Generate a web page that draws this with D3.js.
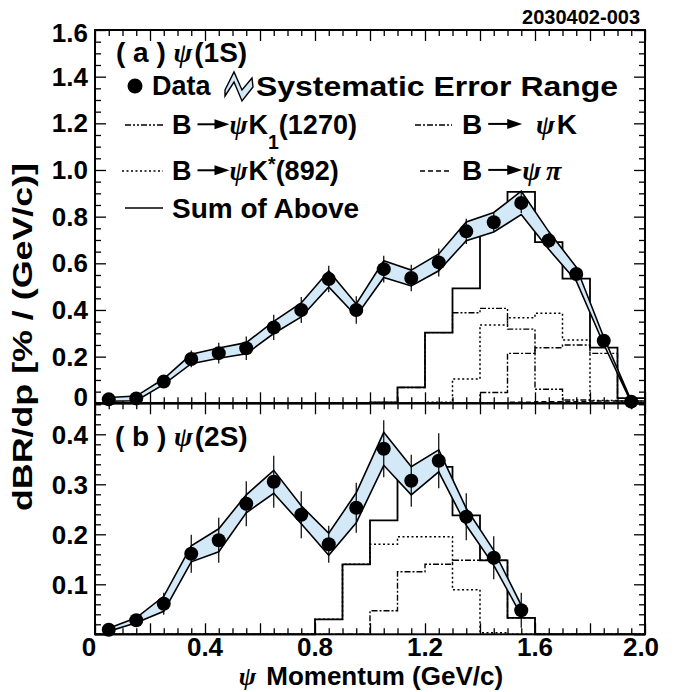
<!DOCTYPE html>
<html>
<head>
<meta charset="utf-8">
<script src="https://cdn.jsdelivr.net/npm/d3@7"></script>
<style>
  html, body { margin: 0; padding: 0; background: #fff; }
  svg { display: block; font-family: "Liberation Sans", Arial, Helvetica, sans-serif; font-weight: bold; }
  text { white-space: pre; }
</style>
</head>
<body>
<svg id="chart" width="679" height="692"></svg>
<script>
// psi momentum bin centres (GeV/c)
const momA = [0.05, 0.15, 0.25, 0.35, 0.45, 0.55, 0.65, 0.75, 0.85, 0.95,
              1.05, 1.15, 1.25, 1.35, 1.45, 1.55, 1.65, 1.75, 1.85, 1.95];
const momB = [0.05, 0.15, 0.25, 0.35, 0.45, 0.55, 0.65, 0.75, 0.85, 0.95,
              1.05, 1.15, 1.25, 1.35, 1.45, 1.55];

// (a) psi(1S) data
const valA  = [0.017, 0.021, 0.093, 0.190, 0.215, 0.236, 0.325, 0.400, 0.533, 0.400,
               0.575, 0.537, 0.604, 0.737, 0.776, 0.859, 0.698, 0.554, 0.268, 0.007];
const statA = [0.008, 0.008, 0.020, 0.036, 0.044, 0.050, 0.054, 0.056, 0.057, 0.059,
               0.057, 0.057, 0.060, 0.054, 0.040, 0.043, 0.032, 0.032, 0.026, 0.010];
const sysA  = [0.008, 0.010, 0.012, 0.020, 0.022, 0.024, 0.026, 0.030, 0.034, 0.026,
               0.036, 0.034, 0.036, 0.040, 0.042, 0.050, 0.038, 0.030, 0.015, 0.004];

// (b) psi(2S) data
const valB  = [0.009, 0.028, 0.061, 0.161, 0.188, 0.261, 0.305, 0.239, 0.180, 0.253,
               0.371, 0.307, 0.347, 0.235, 0.153, 0.048];
const statB = [0.005, 0.010, 0.022, 0.038, 0.045, 0.045, 0.052, 0.047, 0.037, 0.050,
               0.057, 0.052, 0.055, 0.047, 0.043, 0.035];
const sysB  = [0.003, 0.005, 0.015, 0.016, 0.023, 0.018, 0.023, 0.018, 0.022, 0.030,
               0.033, 0.028, 0.022, 0.017, 0.015, 0.010];

// histogram bin edges and exclusive-mode predictions
const binEdges = [0, 0.1, 0.2, 0.3, 0.4, 0.5, 0.6, 0.7, 0.8, 0.9, 1.0,
                  1.1, 1.2, 1.3, 1.4, 1.5, 1.6, 1.7, 1.8, 1.9, 2.0];
const sumA  = [0, 0, 0, 0, 0, 0, 0, 0, 0, 0, 0.004, 0.068, 0.303, 0.493, 0.784, 0.906, 0.691, 0.534, 0.239, 0.022];
const k1A   = [0, 0, 0, 0, 0, 0, 0, 0, 0, 0, 0.004, 0.068, 0.303, 0.388, 0.407, 0.318, 0.060, 0.014, 0, 0];
const kA    = [0, 0, 0, 0, 0, 0, 0, 0, 0, 0, 0, 0, 0, 0, 0.046, 0.214, 0.238, 0.250, 0.214, 0.010];
const kstA  = [0, 0, 0, 0, 0, 0, 0, 0, 0, 0, 0, 0, 0.004, 0.104, 0.336, 0.367, 0.386, 0.271, 0.012, 0.002];
const piA   = [0, 0, 0, 0, 0, 0, 0, 0, 0, 0, 0, 0, 0, 0, 0, 0.005, 0.007, 0.007, 0.010, 0.010];
const sumB  = [0, 0, 0, 0, 0, 0, 0, 0, 0.030, 0.140, 0.228, 0.321, 0.335, 0.238, 0.148, 0.033, 0, 0, 0, 0];
const kstB  = [0, 0, 0, 0, 0, 0, 0, 0, 0.030, 0.140, 0.180, 0.195, 0.195, 0.089, 0.003, 0, 0, 0, 0, 0];
const kB    = [0, 0, 0, 0, 0, 0, 0, 0, 0, 0, 0.047, 0.125, 0.140, 0.148, 0.148, 0.033, 0, 0, 0, 0];

// tick labels
const xTickVals  = [0, 0.4, 0.8, 1.2, 1.6, 2.0];
const xTickText  = ['0', '0.4', '0.8', '1.2', '1.6', '2.0'];
const yTickValsA = [0, 0.2, 0.4, 0.6, 0.8, 1.0, 1.2, 1.4, 1.6];
const yTickTextA = ['0', '0.2', '0.4', '0.6', '0.8', '1.0', '1.2', '1.4', '1.6'];
const yTickValsB = [0.1, 0.2, 0.3, 0.4];
const yTickTextB = ['0.1', '0.2', '0.3', '0.4'];

const BAND_FILL = '#d4e9f8';
const DASH = { k1: '6,2,2,2,2,2', k: '6,2,2,2', kst: '2,2.5', pi: '5,3', sum: null };
const TICK_FONT = 26;

const svg = d3.select('#chart');

const x  = d3.scaleLinear().domain([0, 2]).range([95, 645]);
const yA = d3.scaleLinear().domain([0, 1.6]).range([403.3, 30]);
const yB = d3.scaleLinear().domain([0, 0.462]).range([634.3, 403.3]);

// ---- frames and ticks ----
function tickRow(axisFn, scale, values, size, transform) {
  svg.append('g')
    .attr('transform', transform)
    .call(axisFn(scale).tickValues(values).tickSize(size).tickFormat(''))
    .call((a) => a.select('.domain').remove())
    .call((a) => a.selectAll('line').attr('stroke', '#000').attr('stroke-width', 1.3));
}

const notMultiple = (step) => (v) => Math.abs(v / step - Math.round(v / step)) > 1e-6;
const xMinor = d3.range(0, 2.001, 0.05).filter(notMultiple(0.2));
const xMajor = d3.range(0, 2.001, 0.2);
const yMinorA = d3.range(0, 1.601, 0.05).filter(notMultiple(0.2));
const yMajorA = d3.range(0, 1.601, 0.2);
const yMinorB = d3.range(0, 0.461, 0.02).filter(notMultiple(0.1));
const yMajorB = d3.range(0, 0.461, 0.1);

for (const [vals, len] of [[xMinor, 6], [xMajor, 11]]) {
  tickRow(d3.axisBottom, x, vals, len, `translate(0,${yA(1.6)})`);
  tickRow(d3.axisTop, x, vals, len, `translate(0,${yA(0)})`);
  tickRow(d3.axisBottom, x, vals, len, `translate(0,${yB(0.462)})`);
  tickRow(d3.axisTop, x, vals, len, `translate(0,${yB(0)})`);
}
for (const [vals, len] of [[yMinorA, 6], [yMajorA, 11]]) {
  tickRow(d3.axisRight, yA, vals, len, `translate(${x(0)},0)`);
  tickRow(d3.axisLeft, yA, vals, len, `translate(${x(2)},0)`);
}
for (const [vals, len] of [[yMinorB, 6], [yMajorB, 11]]) {
  tickRow(d3.axisRight, yB, vals, len, `translate(${x(0)},0)`);
  tickRow(d3.axisLeft, yB, vals, len, `translate(${x(2)},0)`);
}

svg.append('rect')
  .attr('x', x(0)).attr('y', yA(1.6))
  .attr('width', x(2) - x(0)).attr('height', yA(0) - yA(1.6))
  .attr('fill', 'none').attr('stroke', '#000').attr('stroke-width', 2);
svg.append('rect')
  .attr('x', x(0)).attr('y', yB(0.462))
  .attr('width', x(2) - x(0)).attr('height', yB(0) - yB(0.462))
  .attr('fill', 'none').attr('stroke', '#000').attr('stroke-width', 2);

// ---- tick labels ----
svg.append('g').selectAll('text')
  .data(yTickValsA)
  .join('text')
  .attr('x', 88)
  .attr('y', (d, i) => yA(d) + 9 + (i === 0 ? -6 : i === yTickValsA.length - 1 ? 3 : 0))
  .attr('text-anchor', 'end')
  .attr('font-size', TICK_FONT)
  .text((d, i) => yTickTextA[i]);

svg.append('g').selectAll('text')
  .data(yTickValsB)
  .join('text')
  .attr('x', 88)
  .attr('y', (d) => yB(d) + 10)
  .attr('text-anchor', 'end')
  .attr('font-size', TICK_FONT)
  .text((d, i) => yTickTextB[i]);

svg.append('g').selectAll('text')
  .data(xTickVals)
  .join('text')
  .attr('x', (d, i) => x(d) + (i === 0 ? -6 : i === xTickVals.length - 1 ? -4 : 0))
  .attr('y', 656)
  .attr('text-anchor', 'middle')
  .attr('font-size', TICK_FONT)
  .text((d, i) => xTickText[i]);

// ---- histograms ----
const histLine = (yScale) => d3.line()
  .x((d) => x(d[0]))
  .y((d) => yScale(d[1]))
  .curve(d3.curveStepAfter);

function drawHist(vals, yScale, dash, width) {
  const pts = vals.map((v, i) => [binEdges[i], v]);
  pts.push([binEdges[binEdges.length - 1], vals[vals.length - 1]]);
  svg.append('path')
    .attr('d', histLine(yScale)(pts))
    .attr('fill', 'none')
    .attr('stroke', '#000')
    .attr('stroke-width', width)
    .attr('stroke-dasharray', dash);
}

drawHist(piA, yA, DASH.pi, 1.4);
drawHist(kA, yA, DASH.k, 1.4);
drawHist(kstA, yA, DASH.kst, 1.5);
drawHist(k1A, yA, DASH.k1, 1.4);
drawHist(sumA, yA, DASH.sum, 1.8);

drawHist(kB, yB, DASH.k, 1.4);
drawHist(kstB, yB, DASH.kst, 1.5);
drawHist(sumB, yB, DASH.sum, 1.8);

// ---- data with systematic band ----
function drawData(mom, val, stat, sys, yScale) {
  const upper = mom.map((m, i) => [x(m), yScale(val[i] + sys[i])]);
  const lower = mom.map((m, i) => [x(m), yScale(Math.max(0, val[i] - sys[i]))]).reverse();
  svg.append('path')
    .attr('d', d3.line()(upper.concat(lower)) + 'Z')
    .attr('fill', BAND_FILL)
    .attr('stroke', '#000')
    .attr('stroke-width', 1.6)
    .attr('stroke-linejoin', 'miter');

  svg.append('g').selectAll('line')
    .data(mom)
    .join('line')
    .attr('x1', (d) => x(d)).attr('x2', (d) => x(d))
    .attr('y1', (d, i) => yScale(val[i] - stat[i]))
    .attr('y2', (d, i) => yScale(val[i] + stat[i]))
    .attr('stroke', '#000')
    .attr('stroke-width', 1.2);

  svg.append('g').selectAll('circle')
    .data(mom)
    .join('circle')
    .attr('cx', (d) => x(d))
    .attr('cy', (d, i) => yScale(val[i]))
    .attr('r', 7)
    .attr('fill', '#000');
}

drawData(momA, valA, statA, sysA, yA);
drawData(momB, valB, statB, sysB, yB);

// ---- rich text helper (Greek letters, arrows, sub/superscripts) ----
function richLabel(px, py, parts, size) {
  const g = svg.append('g').attr('transform', `translate(${px},${py})`);
  let cx = 0;
  for (const p of parts) {
    if (p.arrow) {
      const ay = -size * 0.36;
      g.append('line')
        .attr('x1', cx + 4).attr('x2', cx + p.arrow - 12)
        .attr('y1', ay).attr('y2', ay)
        .attr('stroke', '#000').attr('stroke-width', 2);
      g.append('path')
        .attr('d', `M${cx + p.arrow - 15},${ay - 5}L${cx + p.arrow},${ay}L${cx + p.arrow - 15},${ay + 5}Z`)
        .attr('fill', '#000');
      cx += p.arrow;
      continue;
    }
    const small = p.sub || p.sup;
    const t = g.append('text')
      .attr('x', cx)
      .attr('y', p.sub ? size * 0.55 : p.sup ? -size * 0.35 : 0)
      .attr('font-size', small ? size * 0.72 : size)
      .text(p.t);
    if (p.greek) {
      t.attr('font-family', '"Liberation Serif", serif').attr('font-style', 'italic');
    }
    cx += t.node().getComputedTextLength() + (p.gap || 0);
  }
  return g;
}

const LEG = 27;

richLabel(116, 62, [{ t: '( a ) ' }, { t: 'ψ', greek: true, gap: 2 }, { t: '(1S)' }], 28);
richLabel(115, 446, [{ t: '( b ) ' }, { t: 'ψ', greek: true, gap: 2 }, { t: '(2S)' }], 28);

// Data / systematic legend row
svg.append('circle').attr('cx', 135).attr('cy', 86).attr('r', 7.5).attr('fill', '#000');
svg.append('text').attr('x', 152).attr('y', 95).attr('font-size', LEG).text('Data');
svg.append('path')
  .attr('d', 'M225,90L234,72L242,90L252,78L253,87L242,101L234,82L225,96Z')
  .attr('fill', BAND_FILL)
  .attr('stroke', '#000')
  .attr('stroke-width', 1.4)
  .attr('stroke-linejoin', 'miter');
svg.append('text')
  .attr('x', 256).attr('y', 96)
  .attr('font-size', 28)
  .attr('textLength', 362)
  .attr('lengthAdjust', 'spacingAndGlyphs')
  .text('Systematic Error Range');

function legendLine(x1, x2, yy, dash) {
  svg.append('line')
    .attr('x1', x1).attr('x2', x2).attr('y1', yy).attr('y2', yy)
    .attr('stroke', '#000').attr('stroke-width', 1.4)
    .attr('stroke-dasharray', dash);
}

legendLine(125, 163, 125, DASH.k1);
richLabel(172, 134, [{ t: 'B', gap: 2 }, { arrow: 36 }, { t: 'ψ', greek: true, gap: 1 }, { t: 'K' },
  { t: '1', sub: true }, { t: '(1270)' }], LEG);

legendLine(415, 452, 125, DASH.k);
richLabel(462, 134, [{ t: 'B', gap: 2 }, { arrow: 38 }, { t: ' ', gap: 6 }, { t: 'ψ', greek: true, gap: 2 }, { t: 'K' }], 28);

legendLine(122, 163, 171, DASH.kst);
richLabel(172, 180, [{ t: 'B', gap: 2 }, { arrow: 36 }, { t: 'ψ', greek: true, gap: 1 }, { t: 'K' },
  { t: '*', sup: true }, { t: '(892)' }], LEG);

legendLine(420, 452, 171, DASH.pi);
richLabel(462, 180, [{ t: 'B', gap: 2 }, { arrow: 38 }, { t: 'ψ', greek: true, gap: 5 }, { t: 'π', greek: true }], 28);

legendLine(125, 163, 208, DASH.sum);
svg.append('text').attr('x', 172).attr('y', 218).attr('font-size', 28).text('Sum of Above');

// ---- titles ----
svg.append('text')
  .attr('x', 640).attr('y', 24)
  .attr('text-anchor', 'end')
  .attr('font-size', 20)
  .text('2030402-003');

const xTitle = richLabel(0, 685, [{ t: 'ψ', greek: true, gap: 10 }, { t: 'Momentum (GeV/c)' }], 26);
const xb = xTitle.node().getBBox();
xTitle.attr('transform', `translate(${371 - xb.width / 2},685)`);

svg.append('text')
  .attr('transform', 'translate(32,337) rotate(-90)')
  .attr('text-anchor', 'middle')
  .attr('font-size', 27)
  .attr('textLength', 348)
  .attr('lengthAdjust', 'spacingAndGlyphs')
  .text('dBR/dp [% / (GeV/c)]');
</script>
</body>
</html>
